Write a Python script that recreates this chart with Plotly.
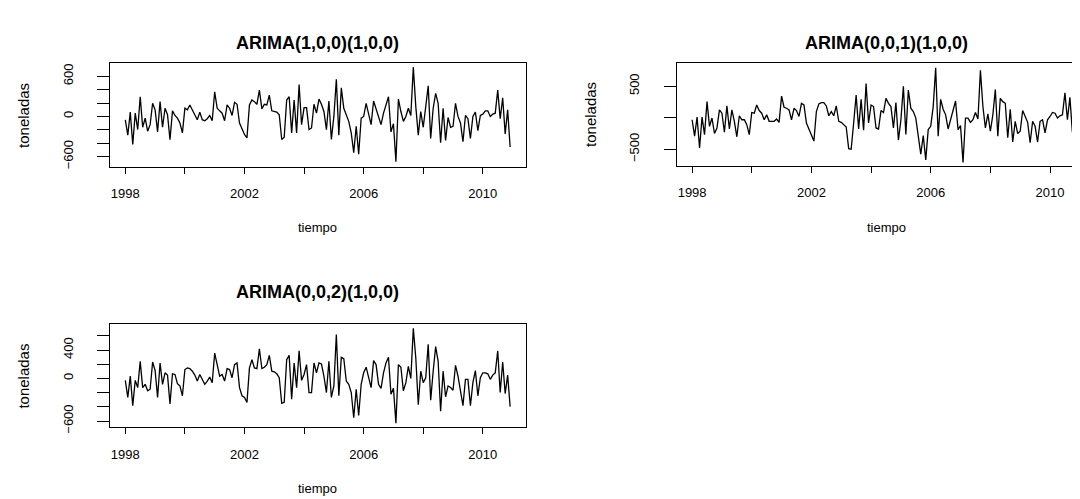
import plotly.graph_objects as go

# ---------------- data (monthly residuals, Jan 1998 onward) ----------------
start_year = 1998
freq = 12

resid_100 = [-50, -280, 64, -418, 50, -196, 295, -162, -25, -220, -123, 197,
             98, -231, 221, -162, 123, 25, -349, 84, 15, -25, -98, -246,
             123, 98, 172, 98, 25, -49, 64, -49, -64, -34, 15, -64,
             368, 123, 84, 49, -64, 172, 123, 15, 211, 182, -98, -197,
             -270, -320, 172, 246, 221, 182, 393, 113, 182, 172, 319, 84,
             74, 64, 25, -344, -310, 246, 295, -246, 246, -246, 477, -123,
             133, 133, -197, -172, 182, 49, 260, 182, 74, -197, 231, -344,
             0, 555, -280, 427, 123, 25, -74, -246, -540, -147, -565, -25,
             0, 197, 25, -123, 231, 123, 0, -123, 49, 182, 295, -231,
             -108, -678, 260, 74, -74, 0, 123, 15, 737, 147, -280, 74,
             -162, 147, 457, -329, 123, 344, 197, -393, 123, -359, -15, -162,
             -147, 197, 0, -98, -378, 15, -34, -329, 0, 64, -211, 15,
             34, 84, 84, 0, 34, 49, 393, -34, 280, -260, 98, -457]

resid_001 = [-32, -292, 10, -480, 10, -267, 255, -136, -5, -250, -162, 125,
             72, -230, 187, -178, 125, -57, -302, 31, -32, -32, -110, -267,
             83, 72, 202, 114, 72, -32, 46, -57, -57, -57, -21, -73,
             343, 166, 150, 125, -32, 150, 114, 20, 229, 202, -84, -188,
             -292, -370, 98, 219, 240, 240, 187, 31, 98, 31, 187, -57,
             -73, -110, -146, -490, -500, -84, 359, -178, 291, -198, 541, -84,
             202, 177, -162, -178, 114, 83, 307, 229, 177, -162, 240, -354,
             -40, 500, -267, 437, 150, 98, -5, -292, -578, -281, -667, -188,
             -136, 177, 791, -292, 291, 135, 46, -178, -32, 125, 265, -188,
             -125, -709, -5, -5, -73, -32, 83, -21, 750, 177, -162, 62,
             -214, 46, 447, -292, 307, 255, 229, -318, 135, -385, -57, -250,
             -214, 114, 31, -73, -396, -57, -136, -385, -57, -32, -240, -32,
             20, 83, 72, -5, 31, 46, 395, -32, 322, -230, 62, -500]

resid_002 = [-27, -268, 33, -384, -27, -129, 241, -129, -83, -175, -152, 232,
             112, -268, 218, -83, 79, 47, -361, 65, 56, -74, -106, -245,
             125, 149, 139, 102, 47, -37, 56, -13, -83, -37, 19, -60,
             357, 195, 33, 56, -37, 139, 125, 10, 195, 218, -129, -245,
             -268, -338, 149, 264, 149, 139, 417, 139, 158, 195, 325, 102,
             93, 65, 10, -352, -338, 264, 325, -292, 218, -129, 389, -27,
             56, 195, -199, -199, 218, 79, 218, 204, 33, -199, 241, -268,
             -106, 620, -245, 297, 278, -37, -83, -199, -555, -152, -523, -83,
             79, 158, 19, -129, 250, 195, -83, -139, 79, 218, 297, -222,
             -139, -630, 195, 158, -175, -60, 171, 0, 705, 287, -370, 102,
             -60, 10, 482, -306, 102, 449, 241, -463, 102, -259, -106, -129,
             -166, 185, 33, -152, -384, -13, -13, -384, -60, 111, -245, 10,
             79, 79, 65, -13, 47, 79, 389, -199, 232, -213, 47, -398]

titles = ["ARIMA(1,0,0)(1,0,0)", "ARIMA(0,0,1)(1,0,0)", "ARIMA(0,0,2)(1,0,0)"]
x_label = "tiempo"
y_label = "toneladas"

x_tickvals = [1998, 2000, 2002, 2004, 2006, 2008, 2010]
x_ticktext = ["1998", "", "2002", "", "2006", "", "2010"]

y1_tickvals = [-600, -400, -200, 0, 200, 400, 600]
y1_ticktext = ["\u2212600", "", "", "0", "", "", "600"]
y2_tickvals = [-500, 0, 500]
y2_ticktext = ["\u2212500", "", "500"]
y3_tickvals = [-600, -400, -200, 0, 200, 400, 600]
y3_ticktext = ["\u2212600", "", "", "0", "", "400", ""]

# ---------------- figure ----------------
W, H = 1080, 499
FONT = "Liberation Sans, Arial, Helvetica, sans-serif"


def t_axis(n):
    return [start_year + k / freq for k in range(n)]


fig = go.Figure()
series = [resid_100, resid_001, resid_002]
axes_ids = [("x", "y"), ("x2", "y2"), ("x3", "y3")]
for s, (xa, ya) in zip(series, axes_ids):
    fig.add_trace(go.Scatter(x=t_axis(len(s)), y=s, mode="lines",
                             line=dict(color="black", width=1.3),
                             xaxis=xa, yaxis=ya, showlegend=False,
                             hoverinfo="skip"))

# panel geometry in pixels (left, right, top, bottom)
P1 = (102, 518, 56, 161)
P2 = (669.3, 1080, 56, 160)
P3 = (102, 518, 320.7, 425)


def xdom(p):
    return [p[0] / W, min(p[1] / W, 1.0)]


def ydom(p):
    return [1 - p[3] / H, 1 - p[2] / H]


common_x = dict(showline=True, mirror=True, linecolor="black", linewidth=1,
                ticks="outside", ticklen=6, tickwidth=1, tickcolor="black",
                showgrid=False, zeroline=False,
                tickvals=x_tickvals, ticktext=x_ticktext,
                tickfont=dict(family=FONT, size=13, color="black"),
                ticklabelstandoff=9, fixedrange=True)
common_y = dict(showline=True, mirror=True, linecolor="black", linewidth=1,
                ticks="outside", ticklen=12, tickwidth=1, tickcolor="black",
                showgrid=False, zeroline=False, tickangle=-90,
                tickfont=dict(family=FONT, size=13, color="black"),
                ticklabelstandoff=19, fixedrange=True)

fig.update_layout(
    width=W, height=H,
    margin=dict(l=0, r=0, t=0, b=0),
    paper_bgcolor="white", plot_bgcolor="white",
    xaxis=dict(common_x, domain=xdom(P1), range=[1997.483, 2011.433], anchor="y"),
    yaxis=dict(common_y, domain=ydom(P1), range=[-752, 796], anchor="x",
               tickvals=y1_tickvals, ticktext=y1_ticktext),
    xaxis2=dict(common_x, domain=xdom(P2), range=[1997.483, 2011.24], anchor="y2"),
    yaxis2=dict(common_y, domain=ydom(P2), range=[-761, 864], anchor="x2",
                tickvals=y2_tickvals, ticktext=y2_ticktext),
    xaxis3=dict(common_x, domain=xdom(P3), range=[1997.483, 2011.433], anchor="y3"),
    yaxis3=dict(common_y, domain=ydom(P3), range=[-685, 764], anchor="x3",
                tickvals=y3_tickvals, ticktext=y3_ticktext),
)

ann = []
title_pos = [((102 + 518) / 2, 35), ((669.3 + 1089) / 2, 35), ((102 + 518) / 2, 288)]
for t, (cx, cy) in zip(titles, title_pos):
    ann.append(dict(text="<b>%s</b>" % t, x=cx / W, y=1 - cy / H, xref="paper", yref="paper",
                    showarrow=False, xanchor="center", yanchor="middle",
                    font=dict(family=FONT, size=18, color="black")))
xl_pos = [((102 + 518) / 2, 223), ((669.3 + 1089) / 2, 223), ((102 + 518) / 2, 487)]
for cx, cy in xl_pos:
    ann.append(dict(text=x_label, x=cx / W, y=1 - cy / H, xref="paper", yref="paper",
                    showarrow=False, xanchor="center", yanchor="middle",
                    font=dict(family=FONT, size=13, color="black")))
yl_pos = [(16, (56 + 161) / 2), (583, (56 + 160) / 2), (16, (320.7 + 425) / 2)]
for cx, cy in yl_pos:
    ann.append(dict(text=y_label, x=cx / W, y=1 - cy / H, xref="paper", yref="paper",
                    showarrow=False, xanchor="center", yanchor="middle", textangle=-90,
                    font=dict(family=FONT, size=15, color="black")))
fig.update_layout(annotations=ann)

fig.write_html("out.html")
